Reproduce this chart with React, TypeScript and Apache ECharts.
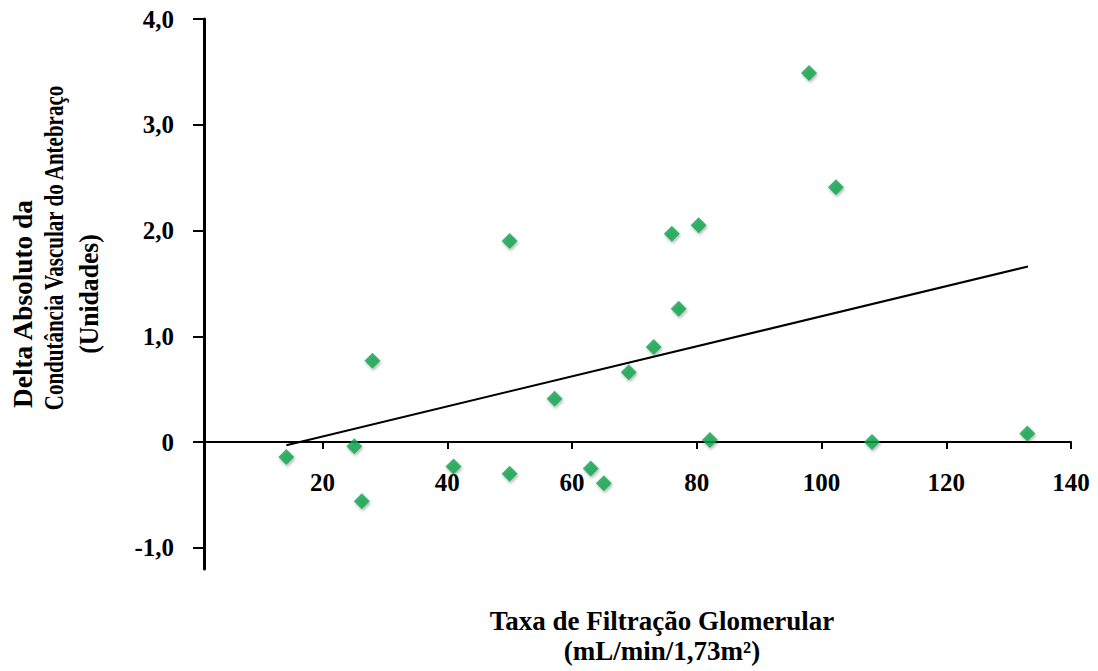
import React, { useEffect, useRef } from "react";
import * as echarts from "echarts";

const xValues = [14.2, 25.1, 26.3, 28.0, 41.0, 50.0, 50.0, 57.2, 63.0, 65.1, 69.1, 73.1, 76.0, 77.1, 80.3, 82.1, 98.0, 102.3, 108.1, 133.0];
const yValues = [-0.14, -0.04, -0.56, 0.77, -0.23, 1.9, -0.3, 0.41, -0.25, -0.39, 0.66, 0.9, 1.97, 1.26, 2.05, 0.02, 3.49, 2.41, 0.0, 0.08];
const trendX = [14.2, 133.1];
const trendY = [-0.03, 1.66];
const xTicks = [20, 40, 60, 80, 100, 120, 140];
const yTicks = [-1, 0, 1, 2, 3, 4];
const xTitle = ["Taxa de Filtração Glomerular", "(mL/min/1,73m²)"];
const yTitle = ["Delta Absoluto da", "Condutância Vascular do Antebraço", "(Unidades)"];

const FONT = "'Liberation Serif', 'Times New Roman', serif";
const Y_MIN = -1.2;
const Y_MAX = 4;
const GRID_TOP = 19;
const GRID_BOTTOM = 102;
const GRID_H = 671 - GRID_TOP - GRID_BOTTOM;
const Y_TITLE_POS = [
  [23, 304],
  [53, 248],
  [89, 294],
];
const Y_TITLE_STRETCH = [1.3, 1.0, 1.22];

export default function App() {
  const ref = useRef<HTMLDivElement>(null);
  useEffect(() => {
    if (!ref.current) return;
    const chart = echarts.init(ref.current, undefined, { renderer: "svg" });
    const points = xValues.map((x, i) => [x, yValues[i]]);
    const trend = trendX.map((x, i) => [x, trendY[i]]);
    const zeroOffset = -(GRID_H * (0 - Y_MIN)) / (Y_MAX - Y_MIN);
    chart.setOption({
      animation: false,
      backgroundColor: "#ffffff",
      grid: { left: 204, right: 27, top: GRID_TOP, bottom: GRID_BOTTOM, containLabel: false },
      xAxis: {
        type: "value",
        min: 1,
        max: 140,
        offset: zeroOffset,
        splitLine: { show: false },
        axisLine: { onZero: false, lineStyle: { color: "#000", width: 2 } },
        axisTick: { show: true, customValues: xTicks, length: 7, lineStyle: { color: "#000", width: 2 } },
        axisLabel: {
          customValues: xTicks,
          margin: 28,
          color: "#000",
          fontFamily: FONT,
          fontWeight: "bold",
          fontSize: 25,
        },
      },
      yAxis: {
        type: "value",
        min: Y_MIN,
        max: Y_MAX,
        splitLine: { show: false },
        axisLine: { onZero: false, lineStyle: { color: "#000", width: 3 } },
        axisTick: { show: true, customValues: yTicks, length: 11, lineStyle: { color: "#000", width: 2 } },
        axisLabel: {
          customValues: yTicks,
          margin: 30,
          color: "#000",
          fontFamily: FONT,
          fontWeight: "bold",
          fontSize: 25,
          formatter: (v: number) => (v === 0 ? "0" : v.toFixed(1).replace(".", ",")),
        },
      },
      series: [
        {
          type: "line",
          data: trend,
          symbol: "none",
          lineStyle: { color: "#000", width: 2 },
          z: 2,
        },
        {
          type: "scatter",
          data: points,
          symbol: "diamond",
          symbolSize: 16,
          itemStyle: {
            color: "#0ea24e",
            shadowColor: "rgba(0,0,0,0.35)",
            shadowBlur: 3,
            shadowOffsetX: 1,
            shadowOffsetY: 2,
          },
          z: 3,
        },
      ],
      graphic: [
        {
          type: "text",
          x: 662,
          y: 636,
          style: {
            text: xTitle.join("\n"),
            fontFamily: FONT,
            fontWeight: "bold",
            fontSize: 27,
            lineHeight: 30,
            fill: "#000",
            align: "center",
            verticalAlign: "middle",
          },
        },
        ...yTitle.map((t, i) => ({
          type: "text",
          x: Y_TITLE_POS[i][0],
          y: Y_TITLE_POS[i][1],
          rotation: Math.PI / 2,
          scaleX: Y_TITLE_STRETCH[i],
          scaleY: 1.3,
          style: {
            text: t,
            fontFamily: FONT,
            fontWeight: "bold",
            fontSize: 21,
            fill: "#000",
            align: "center",
            verticalAlign: "middle",
          },
        })),
      ],
    });
    return () => chart.dispose();
  }, []);
  return <div ref={ref} style={{ position: "fixed", left: 0, top: 0, width: 1098, height: 671 }} />;
}
